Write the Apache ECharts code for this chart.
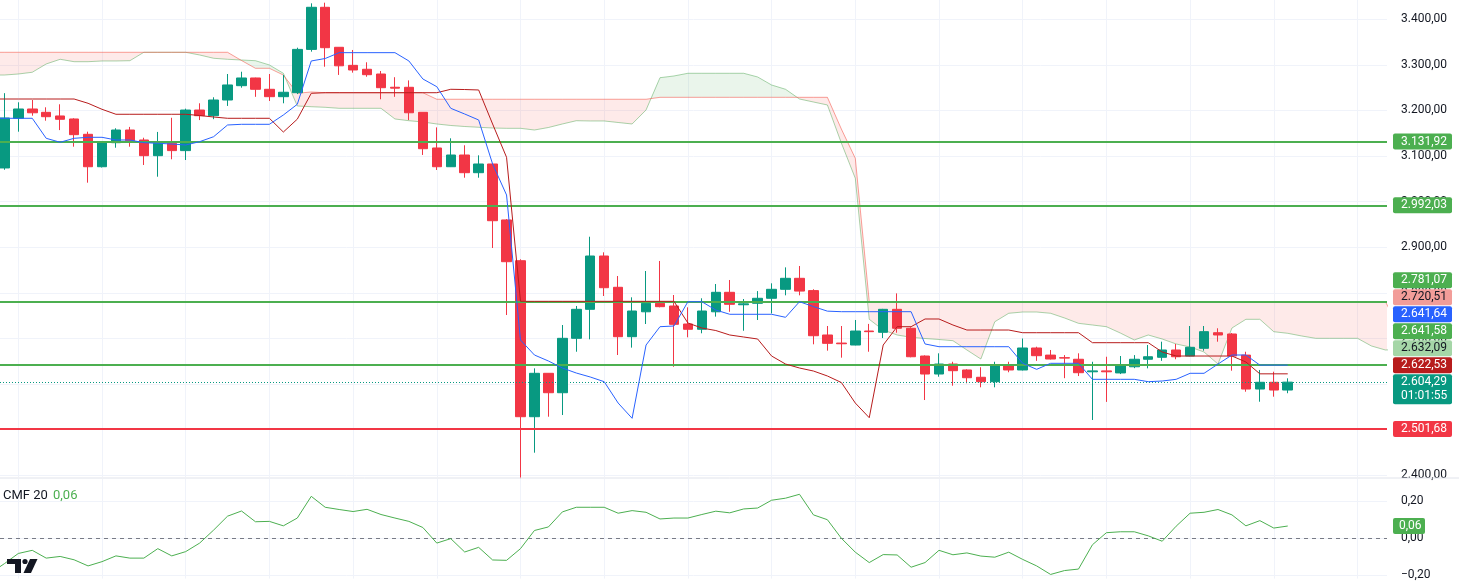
<!DOCTYPE html>
<html><head><meta charset="utf-8">
<script src="https://cdn.jsdelivr.net/npm/echarts@6/dist/echarts.min.js"></script>
<style>html,body{margin:0;padding:0;background:#fff;}#c{width:1459px;height:581px;}</style>
</head><body><div id="c"></div>
<script>
// ---------- DATA ----------
const FIRST_CANDLE = -1;           // bar index of first candle
// [open, close, low, high]
const candles = [
[3074,3183.6,3070,3238],
[3182.9,3203.3,3153.5,3218],[3203.3,3195,3188.6,3223],[3196,3186.4,3177.6,3207],[3188,3180.7,3157,3213.6],[3181.4,3147,3120.6,3183],
[3147.8,3076.7,3041.7,3153.5],[3076.7,3131.6,3075,3133],[3129.4,3157.2,3118.4,3161],[3157.2,3133.8,3120.6,3164],[3135.3,3100.9,3080.5,3140.3],
[3100.9,3128,3054.8,3153],[3128,3112,3093,3184],[3112,3201,3091.4,3204],[3201,3188.6,3179,3215.8],[3188.6,3223,3181,3229],
[3223,3256,3210,3280],[3254.4,3271.3,3250,3285],[3271.3,3246.5,3230,3272],[3246.5,3230.3,3220.8,3280],[3230.3,3240,3215.8,3278],
[3239,3334,3236,3337.7],[3334,3426.3,3329,3435],[3426.3,3337.7,3296,3436.4],[3338.6,3298,3278,3339],[3299,3288.8,3283,3332.7],
[3290.4,3278.5,3274,3305.7],[3280,3250,3224.6,3286.6],[3251,3249,3230,3273],[3250.9,3195,3179,3266],[3196,3116.2,3102.5,3196],
[3117.8,3076.7,3069.5,3163],[3076.7,3102.4,3076,3139],[3102.4,3063.6,3052.6,3123.7],[3063.6,3082.7,3052.6,3101.7],[3082.7,2958.3,2898.5,3083],
[2960,2868.4,2751.5,2962],[2870.6,2528.5,2393.4,2873.7],[2528.5,2623.7,2449.6,2634.6],[2623.7,2581.1,2528.5,2624],[2581.1,2700.4,2532.2,2729.6],
[2700.4,2764,2671,2771.3],[2764,2880.9,2698.2,2923.2],[2880.9,2811.4,2793.2,2889],[2812.3,2704,2663.8,2837],[2704,2760.3,2680,2790.3],
[2758.6,2777.2,2731.8,2848],[2777.2,2769.8,2768.4,2870],[2771.3,2731.1,2638,2795.4],[2731.8,2720.2,2702.6,2768.4],[2720.2,2760.3,2711.4,2788.2],
[2758.6,2801.3,2748,2819.5],[2801.3,2775,2758.6,2828.3],[2774,2776,2717,2786.6],[2777.2,2788.2,2740.6,2804],[2788.2,2807.9,2755,2821],
[2807.9,2832,2794.7,2856],[2832,2804,2794.7,2859],[2805,2706.1,2687.3,2808],[2707.7,2689.4,2673.3,2727.4],[2690,2688.5,2658,2727.4],
[2685.7,2716.4,2685,2740.6],[2716.4,2715,2671,2732],[2713.6,2764,2701,2765],[2764,2722.4,2712.7,2799],[2722.4,2660,2658.8,2724.5],
[2661.6,2622.1,2565.1,2663],[2622.1,2644,2616.2,2667.5],[2644,2629.4,2596.5,2649],[2631,2614,2601.8,2632.5],[2615,2605.3,2593,2637],
[2605.3,2639.7,2593,2649],[2639.7,2631,2626,2649],[2631,2679.2,2630,2700],[2679.2,2662.3,2651,2682],[2663.6,2655,2654,2674.8],
[2658,2657,2613,2663.6],[2654.5,2625,2617.7,2667.5],[2627,2629,2521.3,2649],[2629,2627,2561,2660],[2624.5,2639.7,2622,2661.6],
[2638,2654.5,2635,2663.6],[2654.5,2660,2634.6,2685.7],[2658.8,2674.8,2651,2693],[2674.8,2660,2654.5,2688],[2661.6,2680.7,2661,2727.4],
[2678.5,2715,2673.3,2727.4],[2712.7,2707.7,2693,2722.4],[2709.9,2661.6,2629.4,2712],[2663.6,2589.2,2583.3,2671],[2589.2,2604,2561.4,2631],
[2604,2587,2572.4,2627.2],[2587,2604.29,2580,2612.7]
];
const LINE_START = -2;             // bar index of first point of the indicator lines
const tenkan = [3182.9,3182.9,3182.9,3182.9,3139,3130.3,3139,3141.2,3141.2,3135.3,3135.3,3129.4,3128.1,3126.5,3124.3,3131.6,3142.5,3168.2,3169.7,3169.7,3169.7,3190.1,3213.6,3308.6,3314,3326.8,3326.8,3326.8,3326.8,3326.8,3308.6,3269.1,3252.2,3204.8,3192.3,3179.2,3082.7,3014.7,2696.7,2663.8,2650.7,2635.3,2624.3,2615.6,2605.3,2558.5,2525,2685.7,2725.9,2727.4,2780.7,2780.7,2762.5,2753.1,2753.1,2753.1,2753.1,2746.5,2780.7,2770,2760,2758.8,2758.8,2758.8,2758.8,2758.8,2758.8,2688,2682,2682,2682,2682,2682,2682,2645.6,2632.4,2645.6,2645.6,2645.6,2610.5,2610.5,2610.5,2610.5,2605.3,2606.8,2610.5,2623.7,2623.7,2644,2663.8,2663.8,2641.64,2641.64,2641.64];
const kijun = [3225.2,3225.2,3225.2,3225.2,3225.2,3225.2,3225.2,3215.8,3202.6,3191.7,3191.7,3191.7,3191.7,3191.7,3191.7,3189,3185.7,3182.9,3182.9,3182.9,3182.9,3152.8,3181,3237.7,3239,3239,3239,3239,3239,3239,3239,3239,3239,3246.5,3246,3245,3170.4,3097.4,2781.5,2781.5,2781.5,2781.5,2781.5,2781.5,2781.5,2781.5,2781.5,2781.5,2781.5,2781.5,2734,2723,2717.5,2707.7,2703.3,2698.9,2661.6,2644,2635.3,2628.7,2617.8,2603.5,2558.5,2526.3,2685.7,2725.9,2725.9,2742.8,2742.8,2729.6,2718.6,2718.6,2718.6,2718.6,2712.7,2712.7,2712.7,2712.7,2712.7,2690.8,2690.8,2690.8,2690.8,2690.8,2670.4,2661.6,2661.6,2661.6,2661.6,2661.6,2648.5,2622.53,2622.53,2622.53];
const spanA = [3277.8,3277.8,3280,3283.8,3302,3312.3,3307,3307,3308.6,3308.6,3309.2,3327.6,3327.6,3327.6,3327.6,3321.7,3314.5,3312.3,3310.7,3309.2,3299.8,3281.6,3209.9,3208.3,3207,3204.8,3204.8,3204.8,3204.8,3181.4,3177.6,3174.8,3170.4,3167.1,3164.9,3163.2,3161.6,3160.9,3160.9,3157.2,3162.7,3170.4,3177.6,3177,3177,3173.7,3170.4,3201.1,3271.9,3275.7,3281.6,3281.6,3281.6,3281.6,3281.6,3273.5,3255.9,3246.5,3225.2,3218.6,3212.1,3128.7,3051.3,2742.1,2718.6,2707.7,2702.6,2700,2697.8,2695.2,2674.8,2655,2736.8,2755.3,2758.1,2758.1,2755.3,2745,2733.3,2729.6,2725.9,2712,2696.7,2707.7,2698.9,2688,2681.4,2670.4,2644,2723,2742.1,2742.1,2714.9,2711.4,2705.5,2700.4,2700.4,2700.4,2700.4,2683.6,2674.8,2676];
const spanB = [3327.6,3327.6,3327.6,3327.6,3327.6,3327.6,3327.6,3327.6,3327.6,3327.6,3327.6,3327.6,3327.6,3327.6,3327.6,3327.6,3327.6,3327.6,3309.6,3292.5,3292.5,3277.8,3237.7,3240.6,3239,3239,3239,3239,3239,3239,3239,3239,3224.6,3224.6,3224.6,3224.6,3224.6,3224.6,3224.6,3224.6,3224.6,3224.6,3224.6,3224.6,3224.6,3224.6,3224.6,3224.6,3228.9,3228.9,3228.9,3228.9,3228.9,3228.9,3228.9,3228.9,3228.9,3228.9,3228.9,3228.9,3228.9,3159.4,3095.2,2781.07,2781.07,2781.07,2781.07,2781.07,2781.07,2781.07,2781.07,2781.07,2781.07,2781.07,2781.07,2781.07,2781.07,2781.07,2781.07,2781.07,2781.07,2781.07,2781.07,2781.07,2781.07,2781.07,2781.07,2781.07,2781.07,2781.07,2781.07,2781.07,2781.07,2781.07,2781.07,2781.07,2781.07,2781.07,2781.07,2781.07,2781.07,2720.51];
const cmf = [-0.19,-0.139,-0.084,-0.067,-0.109,-0.1,-0.118,-0.151,-0.128,-0.097,-0.109,-0.109,-0.058,-0.097,-0.074,-0.028,0.042,0.117,0.145,0.087,0.089,0.065,0.107,0.224,0.165,0.153,0.142,0.154,0.126,0.107,0.089,0.056,-0.028,-0.004,-0.076,-0.051,-0.119,-0.121,-0.058,0.04,0.059,0.14,0.165,0.165,0.165,0.133,0.147,0.138,0.102,0.107,0.107,0.126,0.144,0.135,0.156,0.161,0.203,0.214,0.235,0.124,0.098,-0.002,-0.077,-0.133,-0.09,-0.092,-0.158,-0.133,-0.067,-0.091,-0.081,-0.098,-0.104,-0.077,-0.116,-0.151,-0.197,-0.176,-0.168,-0.037,0.028,0.033,0.033,0.011,-0.018,0.063,0.133,0.138,0.153,0.124,0.065,0.093,0.053,0.064];
const greenLevels = [3131.92, 2992.03, 2781.07, 2641.58];
const redLevels = [2501.68];
const lastPrice = 2604.29;
const countdown = '01:01:55';
const cmfLabel = 'CMF 20';
const gridEvery = 6;               // a vertical grid line every 6 bars
// price tags on the right scale
const tagsAbove = [ // stacked upward above the last price tag
  {v:2622.53, bg:'#B71C1C', fg:'#ffffff'},
  {v:2632.09, bg:'#A5D6A7', fg:'#131722'},
  {v:2641.58, bg:'#4CAF50', fg:'#ffffff'},
  {v:2641.64, bg:'#2962FF', fg:'#ffffff'},
  {v:2720.51, bg:'#F29D99', fg:'#131722'},
  {v:2781.07, bg:'#4CAF50', fg:'#ffffff'}
];
const tagsFree = [
  {v:3131.92, bg:'#4CAF50', fg:'#ffffff'},
  {v:2992.03, bg:'#4CAF50', fg:'#ffffff'},
  {v:2501.68, bg:'#F23645', fg:'#ffffff'}
];

// ---------- STYLE ----------
const FONT = 'Roboto, "Liberation Sans", sans-serif';
const UP = '#089981', DOWN = '#F23645';
const GRIDC = '#F0F3FA';

function fmt(v, d){
  d = d == null ? 2 : d;
  const neg = v < 0 && Math.abs(v) >= Math.pow(10,-d)/2;
  const s = Math.abs(v).toFixed(d).split('.');
  const i = s[0].replace(/\B(?=(\d{3})+(?!\d))/g, '.');
  return (neg ? '\u2212' : '') + i + ',' + s[1];
}

const candleData = candles.map((c,k)=>[FIRST_CANDLE+k, c[0], c[1], c[2], c[3]]);
const toXY = arr => arr.map((v,k)=>[LINE_START+k, v]);

function cloudItem(params, api){
  const runs = []; let cur = null;
  for (let k=0; k<spanA.length; k++){
    const x = LINE_START + k, d = spanA[k]-spanB[k];
    if (k>0){
      const dp = spanA[k-1]-spanB[k-1];
      if (dp*d < 0){
        const t = dp/(dp-d), xc = x-1+t, yc = spanA[k-1] + t*(spanA[k]-spanA[k-1]);
        cur.a.push([xc,yc]); cur.b.push([xc,yc]); cur.s += dp;
        runs.push(cur);
        cur = {a:[[xc,yc]], b:[[xc,yc]], s:0};
      }
    }
    if (!cur) cur = {a:[], b:[], s:0};
    cur.a.push([x, spanA[k]]); cur.b.push([x, spanB[k]]); cur.s += d;
  }
  runs.push(cur);
  return {type:'group', children: runs.map(r=>{
    const pts = r.a.map(p=>api.coord(p)).concat(r.b.slice().reverse().map(p=>api.coord(p)));
    return {type:'polygon', shape:{points:pts}, style:{fill: r.s>0 ? 'rgba(67,160,71,0.11)' : 'rgba(244,67,54,0.11)'}};
  })};
}

const chart = echarts.init(document.getElementById('c'), null, {renderer:'canvas'});
const XMIN = -1.312, XMAX = 98.115;
const gridBase = {left:0, right:72};
const xAxisBase = g => ({type:'value', gridIndex:g, min:XMIN, max:XMAX,
  axisLine:{show:false}, axisTick:{show:false}, axisLabel:{show:false}, splitLine:{show:false}});

const vLines = [];
for (let b = 0; b <= XMAX; b += gridEvery) vLines.push({xAxis:b});
const gridLineSeries = (xi, yi) => ({type:'line', xAxisIndex:xi, yAxisIndex:yi, data:[], z:0, silent:true,
  markLine:{silent:true, symbol:['none','none'], z:0, label:{show:false}, lineStyle:{color:GRIDC, width:1, type:'solid'}, data:vLines}});

const levelLines = [];
greenLevels.forEach(v=>levelLines.push({yAxis:v, lineStyle:{color:'#4CAF50', width:2, type:'solid'}}));
redLevels.forEach(v=>levelLines.push({yAxis:v, lineStyle:{color:'#F23645', width:2, type:'solid'}}));
levelLines.push({yAxis:lastPrice, lineStyle:{color:UP, width:1, type:[1,2]}});

const option = {
  animation:false,
  textStyle:{fontFamily:FONT},
  grid:[Object.assign({top:0, height:477}, gridBase), Object.assign({top:479, height:102}, gridBase)],
  xAxis:[xAxisBase(0), xAxisBase(1)],
  yAxis:[
    {type:'value', gridIndex:0, position:'right', min:2396.3, max:3442.3, splitNumber:10,
     axisLine:{show:false}, axisTick:{show:false},
     axisLabel:{margin:14, color:'#131722', fontSize:12, fontFamily:FONT, showMinLabel:false, showMaxLabel:false, formatter:v=>fmt(v)},
     splitLine:{show:true, showMinLine:false, showMaxLine:false, lineStyle:{color:GRIDC}}},
    {type:'value', gridIndex:1, position:'right', min:-0.2195, max:0.3174, splitNumber:3,
     axisLine:{show:false}, axisTick:{show:false},
     axisLabel:{margin:14, color:'#131722', fontSize:12, fontFamily:FONT, showMinLabel:false, showMaxLabel:false, formatter:v=>fmt(v)},
     splitLine:{show:true, showMinLine:false, showMaxLine:false, lineStyle:{color:GRIDC}}}
  ],
  series:[
    gridLineSeries(0,0),
    gridLineSeries(1,1),
    {type:'custom', name:'cloud', xAxisIndex:0, yAxisIndex:0, data:[[0,0]], renderItem:cloudItem, clip:true, z:1, silent:true},
    {type:'line', name:'Leading Span A', data:toXY(spanA), showSymbol:false, z:2, silent:true,
     lineStyle:{color:'rgba(67,160,71,0.45)', width:1}},
    {type:'line', name:'Leading Span B', data:toXY(spanB), showSymbol:false, z:2, silent:true,
     lineStyle:{color:'rgba(244,67,54,0.5)', width:1}},
    {type:'candlestick', name:'ETH', data:candleData, barWidth:10, z:3, silent:true,
     itemStyle:{color:UP, color0:DOWN, borderColor:UP, borderColor0:DOWN, borderWidth:1}},
    {type:'line', name:'levels', data:[], z:4, silent:true,
     markLine:{silent:true, symbol:['none','none'], z:4, label:{show:false}, data:levelLines}},
    {type:'line', name:'Base Line', data:toXY(kijun), showSymbol:false, z:6, silent:true,
     lineStyle:{color:'#B71C1C', width:1}},
    {type:'line', name:'Conversion Line', data:toXY(tenkan), showSymbol:false, z:6, silent:true,
     lineStyle:{color:'#2962FF', width:1}},
    {type:'line', name:'CMF', xAxisIndex:1, yAxisIndex:1, data:toXY(cmf), showSymbol:false, z:5, silent:true,
     lineStyle:{color:'#4CAF50', width:1},
     markLine:{silent:true, symbol:['none','none'], label:{show:false},
       data:[{yAxis:0, lineStyle:{color:'#787B86', width:1, type:[4,4]}}]}}
  ]
};
chart.setOption(option);

// ---------- right-scale tags, pane separator, legend text, logo ----------
const plotRight = chart.convertToPixel({xAxisIndex:0}, XMAX);
const tagX = plotRight + 6, tagW = 59, tagH = 16;
const yP = v => chart.convertToPixel({yAxisIndex:0}, v);
const ZT = 100;
const g = [];
function tag(cy, lines, bg, fg, w){
  const h = lines.length===1 ? tagH : 30;
  const top = cy - 8;
  g.push({type:'rect', z:ZT, zlevel:1, shape:{x:tagX, y:top, width:w||tagW, height:h, r:2}, style:{fill:bg}});
  lines.forEach((t,i)=>g.push({type:'text', z:ZT+1, zlevel:1, style:{x:tagX+8, y:top+8+i*14, text:t, fill:fg, font:'12px '+FONT, verticalAlign:'middle', align:'left'}}));
}
// last price tag with countdown
const lastY = yP(lastPrice);
tag(lastY, [fmt(lastPrice), countdown], UP, '#ffffff');
let limit = lastY - 8 - 1;
tagsAbove.forEach(t=>{
  const cy = Math.min(yP(t.v), limit - 8);
  tag(cy, [fmt(t.v)], t.bg, t.fg);
  limit = cy - 8 - 1;
});
tagsFree.forEach(t=>tag(yP(t.v), [fmt(t.v)], t.bg, t.fg));
// CMF value tag
const cmfLast = cmf[cmf.length-1];
const cmfY = chart.convertToPixel({yAxisIndex:1}, cmfLast);
g.push({type:'rect', z:ZT, zlevel:1, shape:{x:tagX, y:cmfY-8, width:32, height:16, r:2}, style:{fill:'#4CAF50'}});
g.push({type:'text', z:ZT+1, zlevel:1, style:{x:tagX+6, y:cmfY, text:fmt(cmfLast), fill:'#ffffff', font:'12px '+FONT, verticalAlign:'middle'}});
// pane separator
g.push({type:'line', z:50, shape:{x1:0, y1:478, x2:1459, y2:478}, style:{stroke:'#E0E3EB', lineWidth:1}});
// CMF legend
g.push({type:'text', z:ZT, style:{x:3, y:496, text:cmfLabel, fill:'#131722', font:'13px '+FONT, verticalAlign:'middle'}});
g.push({type:'text', z:ZT, style:{x:53, y:496, text:fmt(cmfLast), fill:'#4CAF50', font:'13px '+FONT, verticalAlign:'middle'}});
// logo
const LC = '#131722';
g.push({type:'rect', z:ZT, shape:{x:7, y:559, width:14, height:5}, style:{fill:LC}});
g.push({type:'rect', z:ZT, shape:{x:15, y:559, width:6, height:14}, style:{fill:LC}});
g.push({type:'circle', z:ZT, shape:{cx:25, cy:561.5, r:2.6}, style:{fill:LC}});
g.push({type:'polygon', z:ZT, shape:{points:[[30,559],[37.5,559],[31,573],[23.5,573]]}, style:{fill:LC}});
chart.setOption({graphic:g});
</script>
</body></html>
